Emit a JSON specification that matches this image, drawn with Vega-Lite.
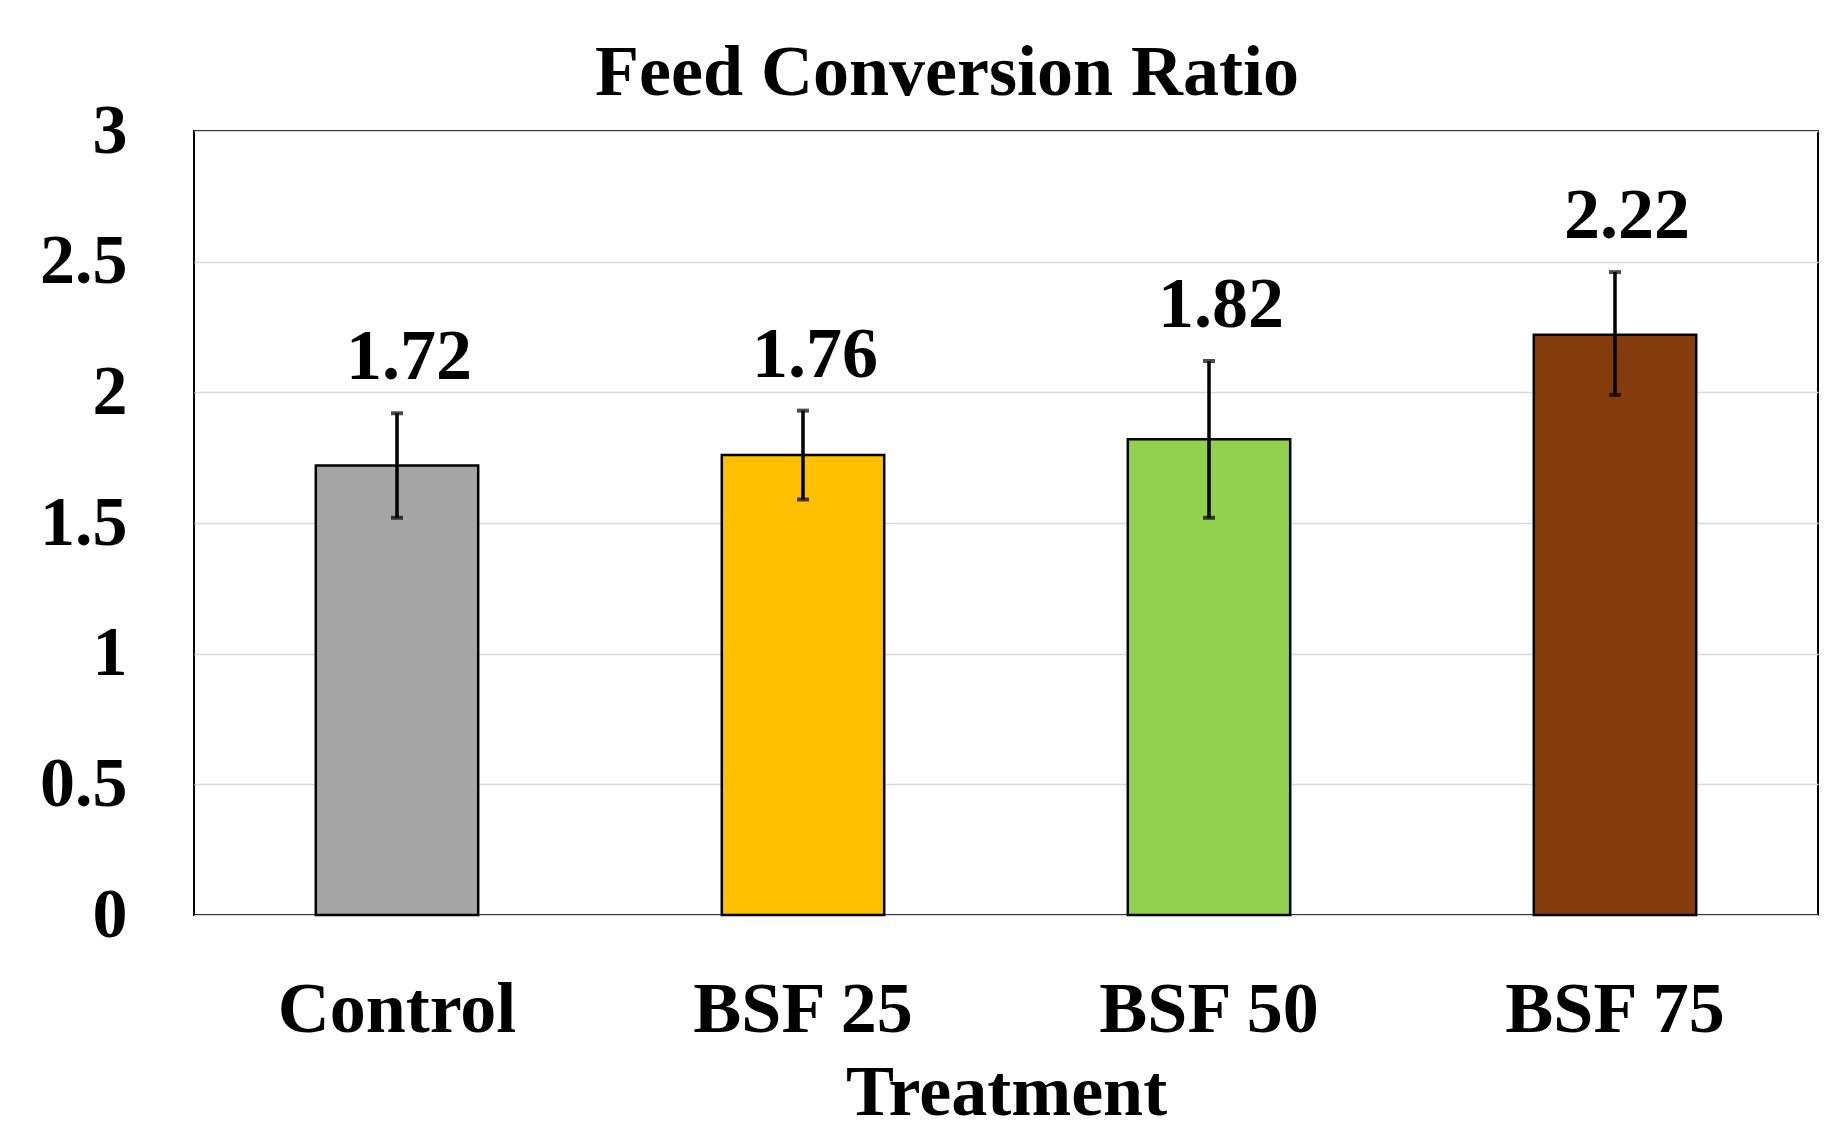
{
  "$schema": "https://vega.github.io/schema/vega-lite/v6.json",
  "width": 1624,
  "height": 784,
  "autosize": {"type": "pad"},
  "padding": {"left": 39, "top": 37, "right": 24, "bottom": 0},
  "background": "white",
  "config": {
    "font": "Liberation Serif",
    "view": {"stroke": "black", "strokeWidth": 2},
    "axis": {"labelFont": "Liberation Serif", "titleFont": "Liberation Serif"}
  },
  "title": {
    "text": "Feed Conversion Ratio",
    "font": "Liberation Serif",
    "fontSize": 72,
    "fontWeight": "bold",
    "color": "black",
    "baseline": "alphabetic",
    "frame": "group",
    "offset": -71,
    "dx": -59
  },
  "data": {
    "values": [
      {"Treatment": "Control", "FCR": 1.72, "lower": 1.52, "upper": 1.92},
      {"Treatment": "BSF 25", "FCR": 1.76, "lower": 1.59, "upper": 1.93},
      {"Treatment": "BSF 50", "FCR": 1.82, "lower": 1.52, "upper": 2.12},
      {"Treatment": "BSF 75", "FCR": 2.22, "lower": 1.99, "upper": 2.46}
    ]
  },
  "encoding": {
    "x": {
      "field": "Treatment",
      "type": "nominal",
      "sort": ["Control", "BSF 25", "BSF 50", "BSF 75"],
      "scale": {"paddingInner": 0.6, "paddingOuter": 0.3},
      "axis": {
        "title": "Treatment",
        "labelAngle": 0,
        "labelLimit": 0,
        "labelFontSize": 72,
        "labelFontWeight": "bold",
        "labelColor": "black",
        "labelBaseline": "alphabetic",
        "labelPadding": 116,
        "ticks": false,
        "domain": false,
        "titleFontSize": 72,
        "titleFontWeight": "bold",
        "titleColor": "black",
        "titleBaseline": "alphabetic",
        "titleY": 199
      }
    }
  },
  "layer": [
    {
      "mark": {"type": "bar", "stroke": "black", "strokeWidth": 2.5},
      "encoding": {
        "y": {
          "field": "FCR",
          "type": "quantitative",
          "scale": {"domain": [0, 3], "nice": false},
          "axis": {
            "title": null,
            "values": [0, 0.5, 1, 1.5, 2, 2.5, 3],
            "format": "~g",
            "labelFontSize": 70,
            "labelFontWeight": "bold",
            "labelColor": "black",
            "labelPadding": 67,
            "ticks": false,
            "domain": false,
            "grid": true,
            "gridColor": "#D9D9D9",
            "gridWidth": 1.5
          }
        },
        "color": {
          "field": "Treatment",
          "type": "nominal",
          "scale": {
            "domain": ["Control", "BSF 25", "BSF 50", "BSF 75"],
            "range": ["#A5A5A5", "#FFC000", "#92D050", "#843C0C"]
          },
          "legend": null
        }
      }
    },
    {
      "mark": {"type": "rule", "color": "black", "strokeWidth": 3.5},
      "encoding": {
        "y": {"field": "lower", "type": "quantitative"},
        "y2": {"field": "upper"}
      }
    },
    {
      "mark": {"type": "tick", "color": "black", "size": 12, "thickness": 4, "orient": "horizontal"},
      "encoding": {
        "y": {"field": "lower", "type": "quantitative"}
      }
    },
    {
      "mark": {"type": "tick", "color": "black", "size": 12, "thickness": 4, "orient": "horizontal"},
      "encoding": {
        "y": {"field": "upper", "type": "quantitative"}
      }
    },
    {
      "mark": {
        "type": "text",
        "font": "Liberation Serif",
        "fontSize": 72,
        "fontWeight": "bold",
        "color": "black",
        "baseline": "alphabetic",
        "dy": -34,
        "dx": 12
      },
      "encoding": {
        "y": {"field": "upper", "type": "quantitative"},
        "text": {"field": "FCR", "type": "quantitative", "format": ".2f"}
      }
    }
  ]
}
